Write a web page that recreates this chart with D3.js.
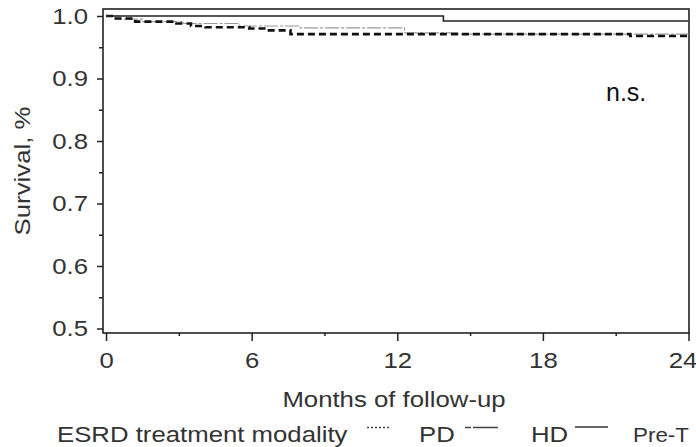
<!DOCTYPE html>
<html>
<head>
<meta charset="utf-8">
<script src="https://cdn.jsdelivr.net/npm/d3@7"></script>
<style>
  body { margin: 0; background: #fff; }
  svg text { font-family: "Liberation Sans", Arial, sans-serif; fill: #333; }
</style>
</head>
<body>
<div id="chart"></div>
<script>
// survival curves (step functions)
var pdMonths   = [0, 0.4, 1.2, 2.9, 3.5, 4.1, 5.9, 6.6, 7.6, 21.6, 24];
var pdSurvival = [1.0, 0.996, 0.991, 0.988, 0.984, 0.982, 0.980, 0.977, 0.971, 0.968, 0.968];
var hdMonths   = [0, 0.6, 1.5, 3.2, 5.5, 8.0, 12.3, 14.5, 24];
var hdSurvival = [1.0, 0.995, 0.991, 0.988, 0.984, 0.981, 0.973, 0.971, 0.971];
var pretMonths   = [0, 13.9, 24];
var pretSurvival = [1.0, 0.992, 0.992];

var xMajor = [0, 6, 12, 18, 24];
var xMinor = [3, 9, 15, 21];
var yMajor = [0.5, 0.6, 0.7, 0.8, 0.9, 1.0];
var yMinor = [0.55, 0.65, 0.75, 0.85, 0.95];

var legendTitle = "ESRD treatment modality";
var legendLabels = ["PD", "HD", "Pre-T"];

document.addEventListener('DOMContentLoaded', function() {
    var W = 696, H = 447;
    var SX = 1.12; // the source picture is a bit wider than tall, text looks stretched
    var svg = d3.select("#chart").append("svg").attr("width", W).attr("height", H);

    var x = d3.scaleLinear().domain([-0.125, 24.02]).range([103, 689]);
    var y = d3.scaleLinear().domain([0.4928, 1.0112]).range([333, 9]);

    function zip(ms, vs) { return ms.map(function(m, i) { return [m, vs[i]]; }); }
    var line = d3.line().x(function(d){ return x(d[0]); }).y(function(d){ return y(d[1]); }).curve(d3.curveStepAfter);

    // move x/y into a transform so the glyphs can be widened around their anchor
    function stretch(sel) {
        sel.each(function() {
            var t = d3.select(this);
            var tx = +t.attr("x") || 0, ty = +t.attr("y") || 0;
            var pre = t.attr("transform") ? t.attr("transform") + " " : "";
            t.attr("x", null).attr("y", null)
             .attr("transform", pre + "translate(" + tx + "," + ty + ") scale(" + SX + ",1)");
        });
    }

    // frame
    svg.append("rect")
        .attr("x", x.range()[0]).attr("y", y.range()[1])
        .attr("width", x.range()[1]-x.range()[0]).attr("height", y.range()[0]-y.range()[1])
        .style("fill", "none").style("stroke", "#222").style("stroke-width", 1.6);

    // axes
    var gy = svg.append("g").attr("transform", "translate(" + x.range()[0] + ",0)")
        .call(d3.axisLeft(y).tickValues(yMajor).tickSize(6).tickPadding(9).tickFormat(d3.format(".1f")));
    var gy2 = svg.append("g").attr("transform", "translate(" + x.range()[0] + ",0)")
        .call(d3.axisLeft(y).tickValues(yMinor).tickSize(4).tickFormat(""));
    var gx = svg.append("g").attr("transform", "translate(0," + y.range()[0] + ")")
        .call(d3.axisBottom(x).tickValues(xMajor).tickSize(8).tickPadding(11));
    var gx2 = svg.append("g").attr("transform", "translate(0," + y.range()[0] + ")")
        .call(d3.axisBottom(x).tickValues(xMinor).tickSize(3).tickFormat(""));
    [gy, gy2, gx, gx2].forEach(function(g) {
        g.select(".domain").remove();
        g.selectAll(".tick line").style("stroke", "#222").style("stroke-width", 1.5);
        g.selectAll(".tick text").style("font-size", "23px").style("fill", "#333");
    });
    gx.selectAll(".tick text").filter(function(d){ return d === 24; }).attr("x", -6);
    stretch(gy.selectAll(".tick text"));
    stretch(gx.selectAll(".tick text"));

    // curves
    svg.append("path").datum(zip(hdMonths, hdSurvival)).attr("d", line)
        .style("fill", "none").style("stroke", "#999").style("stroke-width", 1.1)
        .style("stroke-dasharray", "14,2,3,2");
    svg.append("path").datum(zip(pdMonths, pdSurvival)).attr("d", line)
        .style("fill", "none").style("stroke", "#111").style("stroke-width", 2.6)
        .style("stroke-dasharray", "7,4");
    svg.append("path").datum(zip(pretMonths, pretSurvival)).attr("d", line)
        .style("fill", "none").style("stroke", "#222").style("stroke-width", 1.6);

    svg.append("text").attr("x", 606).attr("y", 101).text("n.s.")
        .style("font-size", "25px").style("fill", "#111");

    // axis titles
    var yt = svg.append("text").attr("transform", "translate(30," + ((y.range()[0]+y.range()[1])/2) + ") rotate(-90)")
        .attr("text-anchor", "middle").style("font-size", "23px").text("Survival, %");
    stretch(yt);
    var xt = svg.append("text").attr("x", (x.range()[0]+x.range()[1])/2 - 2).attr("y", 407)
        .attr("text-anchor", "middle").style("font-size", "23px").text("Months of follow-up");
    stretch(xt);

    // legend
    var lg = svg.append("g");
    lg.append("text").attr("x", 57).attr("y", 442).style("font-size", "23px").text(legendTitle);
    lg.append("line").attr("x1", 367).attr("x2", 389).attr("y1", 427.5).attr("y2", 427.5)
        .style("stroke", "#444").style("stroke-width", 1.5).style("stroke-dasharray", "2,2");
    lg.append("text").attr("x", 419).attr("y", 442).style("font-size", "23px").text(legendLabels[0]);
    lg.append("line").attr("x1", 465).attr("x2", 498).attr("y1", 427.5).attr("y2", 427.5)
        .style("stroke", "#444").style("stroke-width", 1.3).style("stroke-dasharray", "6,2,30");
    lg.append("text").attr("x", 531).attr("y", 442).style("font-size", "23px").text(legendLabels[1]);
    lg.append("line").attr("x1", 575).attr("x2", 608).attr("y1", 427).attr("y2", 427)
        .style("stroke", "#333").style("stroke-width", 1.3);
    lg.append("text").attr("x", 633).attr("y", 442).style("font-size", "20px").text(legendLabels[2]);
    stretch(lg.selectAll("text"));
}, false);
</script>
</body>
</html>
